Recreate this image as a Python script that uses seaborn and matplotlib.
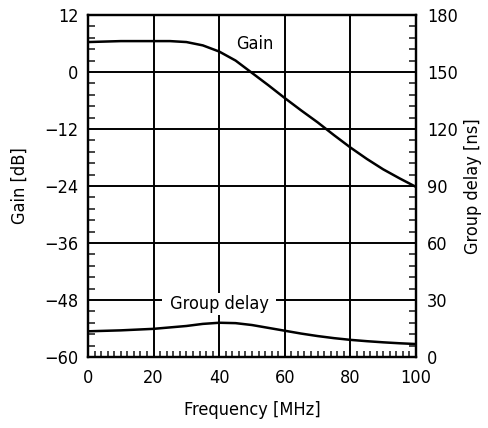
import matplotlib
matplotlib.use("Agg")
import matplotlib.pyplot as plt
from matplotlib.ticker import MultipleLocator
import seaborn as sns
import pandas as pd

freq_gain = [0, 5, 10, 15, 20, 25, 30, 35, 40, 45, 50, 55, 60, 65, 70, 75, 80, 85, 90, 95, 100]
gain_db = [6.3, 6.4, 6.5, 6.5, 6.5, 6.5, 6.3, 5.6, 4.3, 2.4, -0.2, -2.8, -5.5, -8.1, -10.6, -13.3, -15.9, -18.3, -20.5, -22.4, -24.2]

freq_delay = [0, 10, 20, 30, 35, 40, 45, 50, 55, 60, 65, 70, 75, 80, 85, 90, 95, 100]
delay_ns = [13.5, 14.0, 14.8, 16.3, 17.4, 18.0, 17.8, 16.8, 15.3, 13.8, 12.3, 11.0, 9.9, 9.0, 8.3, 7.7, 7.2, 6.8]

gain_ticks = [-60, -48, -36, -24, -12, 0, 12]
delay_ticks = [0, 30, 60, 90, 120, 150, 180]
freq_ticks = [0, 20, 40, 60, 80, 100]

sns.set_theme(style="white")
plt.rcParams['font.family'] = ['DejaVu Sans']
plt.rcParams['font.stretch'] = 'condensed'
plt.rcParams['axes.unicode_minus'] = True
plt.rcParams['text.color'] = 'black'

fig = plt.figure(figsize=(4.89, 4.28), dpi=100)
ax = fig.add_axes([0.18, 0.166, 0.6707, 0.799])
ax2 = ax.twinx()

df_g = pd.DataFrame({"f": freq_gain, "g": gain_db})
df_d = pd.DataFrame({"f": freq_delay, "d": delay_ns})
sns.lineplot(data=df_g, x="f", y="g", ax=ax, color="black", linewidth=1.8)
sns.lineplot(data=df_d, x="f", y="d", ax=ax2, color="black", linewidth=1.8)

ax.set_xlim(0, 100)
ax.set_ylim(-60, 12)
ax2.set_ylim(0, 180)
ax.set_yticks(gain_ticks)
ax.set_yticklabels([str(t).replace('-', '\u2212') for t in gain_ticks])
ax2.set_yticks(delay_ticks)
ax.set_xticks(freq_ticks)
ax.xaxis.set_minor_locator(MultipleLocator(2))
ax.yaxis.set_minor_locator(MultipleLocator(2.4))
ax2.yaxis.set_minor_locator(MultipleLocator(6))

ax.grid(True, which="major", color="black", linewidth=1.4)
ax2.grid(False)
for a in (ax, ax2):
    for s in a.spines.values():
        s.set_color("black")
        s.set_linewidth(1.6)
ax.tick_params(axis="y", which="major", direction="in", length=0, labelsize=13, colors="black", pad=7)
ax.tick_params(axis="x", which="major", direction="in", length=0, labelsize=13, colors="black", pad=9)
ax.tick_params(axis="x", which="minor", direction="in", length=4, width=1.2, bottom=True, top=False)
ax.tick_params(axis="y", which="minor", direction="in", length=5, width=1.2, left=True)
ax2.tick_params(axis="y", which="major", direction="in", length=0, labelsize=13, colors="black", pad=8)
ax2.tick_params(axis="y", which="minor", direction="in", length=5, width=1.2, right=True)

ax.set_xlabel("Frequency [MHz]", fontsize=13, labelpad=10, color="black")
ax.set_ylabel("Gain [dB]", fontsize=13, labelpad=11, color="black")
ax2.set_ylabel("Group delay [ns]", fontsize=13, labelpad=4, color="black")

ax.text(51, 5.8, "Gain", fontsize=13, ha="center", va="center", color="black")
ax2.text(40, 28.0, " Group delay ", fontsize=13, ha="center", va="center", color="black",
         bbox=dict(facecolor="white", edgecolor="none", pad=1.5))

fig.savefig("out.png", dpi=100)
